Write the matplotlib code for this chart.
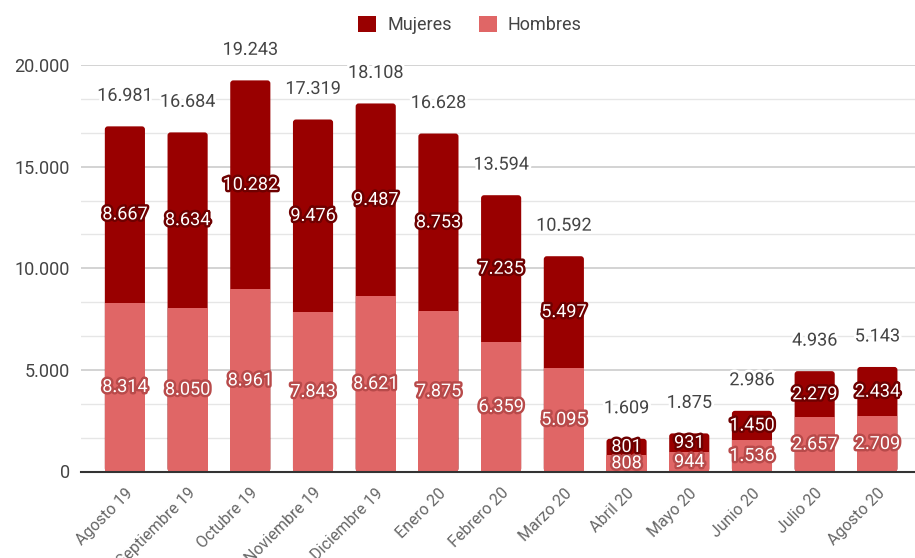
import matplotlib
matplotlib.use("Agg")
import matplotlib.pyplot as plt
import matplotlib.patheffects as pe
from matplotlib.patches import FancyBboxPatch
from matplotlib.ticker import FuncFormatter, MultipleLocator
import numpy as np

plt.rcParams['font.family'] = ['Roboto', 'DejaVu Sans']

categories = ["Agosto 19", "Septiembre 19", "Octubre 19", "Noviembre 19", "Diciembre 19",
              "Enero 20", "Febrero 20", "Marzo 20", "Abril 20", "Mayo 20", "Junio 20",
              "Julio 20", "Agosto 20"]
hombres = [8314, 8050, 8961, 7843, 8621, 7875, 6359, 5095, 808, 944, 1536, 2657, 2709]
mujeres = [8667, 8634, 10282, 9476, 9487, 8753, 7235, 5497, 801, 931, 1450, 2279, 2434]

c_muj = "#990000"
c_hom = "#e06666"

def fmt(v):
    return f"{int(v):,}".replace(",", ".")

fig = plt.figure(figsize=(9.15, 5.58), dpi=100)
ax_h = (471.5-65)
ax = fig.add_axes([81/915, 1-471.5/558, 1-81/915, ax_h/558])

x = np.arange(len(categories))
w = 0.64
ax.set_xlim(-0.70, 12.6)
ax.set_ylim(0, 20000)

# pixel scale for rounded corners
px_x = (12.6 + 0.70) / (915 - 81)
px_y = 20000 / ax_h
r = 3 * px_x

bars_m = ax.bar(x, mujeres, width=w, bottom=hombres, color=c_muj, zorder=3, label="Mujeres")
bars_h = ax.bar(x, hombres, width=w, color=c_hom, zorder=4, label="Hombres")
for rect in bars_m:
    rect.set_visible(False)
    x0, y0 = rect.get_x(), 0
    hh = rect.get_y() + rect.get_height()
    fp = FancyBboxPatch((x0, y0), rect.get_width(), hh,
                        boxstyle=f"round,pad=0,rounding_size={r}",
                        mutation_aspect=px_y / px_x,
                        facecolor=c_muj, edgecolor='none', zorder=3)
    ax.add_patch(fp)

for i in range(len(categories)):
    h, m = hombres[i], mujeres[i]
    ax.text(x[i], h/2, fmt(h), ha='center', va='center', color='white', fontsize=13,
            zorder=6, path_effects=[pe.withStroke(linewidth=3.5, foreground="#b84a4a")])
    ax.text(x[i], h + m/2, fmt(m), ha='center', va='center', color='white', fontsize=13,
            zorder=6, path_effects=[pe.withStroke(linewidth=3.5, foreground="#6e0000")])
    ax.annotate(fmt(h + m), xy=(x[i], h + m), xytext=(0, 22), textcoords='offset points',
                ha='center', va='center', color='#444444', fontsize=13, zorder=7,
                path_effects=[pe.withStroke(linewidth=4, foreground="white")])

ax.yaxis.set_major_locator(MultipleLocator(5000))
ax.yaxis.set_minor_locator(MultipleLocator(5000/3))
ax.yaxis.set_major_formatter(FuncFormatter(lambda v, p: fmt(v)))
ax.grid(axis='y', which='major', color='#cccccc', linewidth=1.2, zorder=0)
ax.grid(axis='y', which='minor', color='#e6e6e6', linewidth=1.0, zorder=0)
ax.set_axisbelow(True)
for s in ['top', 'right', 'left']:
    ax.spines[s].set_visible(False)
ax.spines['bottom'].set_color('#333333')
ax.spines['bottom'].set_linewidth(1.5)
ax.spines['bottom'].set_zorder(5)
ax.tick_params(axis='both', which='both', length=0)
ax.tick_params(axis='y', labelsize=13, labelcolor='#444444', pad=8)
ax.set_xticks(x)
ax.set_xticklabels(categories, rotation=45, ha='right', rotation_mode='anchor',
                   fontsize=11.5, color='#666666')
ax.tick_params(axis='x', pad=10)
for lbl in ax.get_xticklabels():
    lbl.set_x(lbl.get_position()[0])

handles = [bars_m, bars_h]
labels = ["Mujeres", "Hombres"]
leg = fig.legend(handles, labels, loc='center', bbox_to_anchor=(470/915, 1-25/558),
                 ncol=2, frameon=False, fontsize=13, handlelength=1.0, handleheight=1.0,
                 columnspacing=1.5, handletextpad=0.6)
for t in leg.get_texts():
    t.set_color('#444444')
for hnd in leg.legend_handles:
    hnd.set_visible(True)

fig.savefig("out.png", dpi=100)
